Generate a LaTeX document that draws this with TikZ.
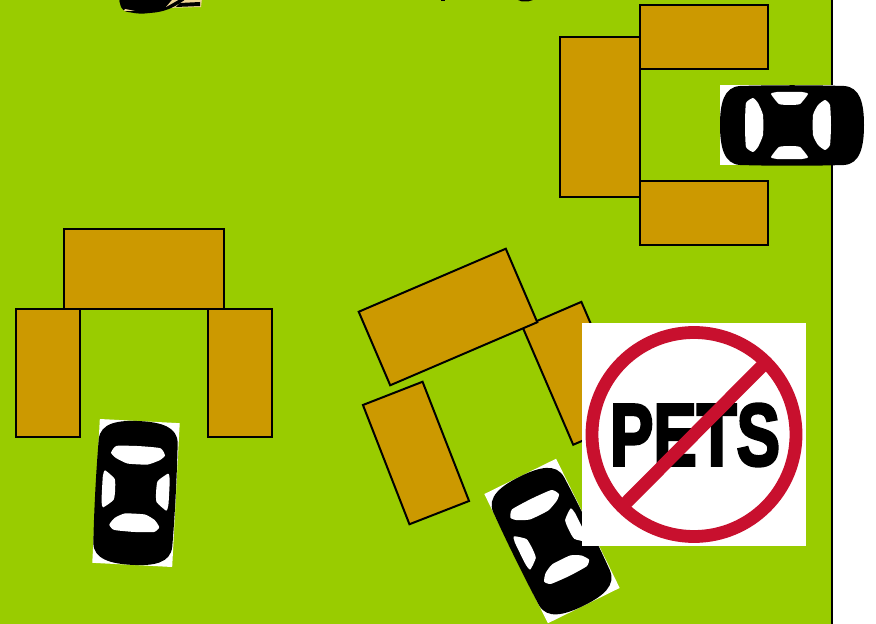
\documentclass[tikz,border=0pt]{standalone}
\usepackage{fontspec}
\usepackage{tikz}
\usetikzlibrary{positioning}
\newfontfamily\petsfont[FakeBold=3.5]{Liberation Sans Bold}
\definecolor{lawn}{RGB}{153,204,0}
\definecolor{tabletop}{RGB}{204,153,0}
\definecolor{signred}{RGB}{200,16,46}
\definecolor{dogtan}{RGB}{240,214,150}
\tikzset{
  tablebox/.style={
    draw=black, fill=tabletop, line width=1.5pt,
    minimum width=#1, inner sep=0pt, outer sep=0pt
  },
  longtable/.style={tablebox=160*0.75pt, minimum height=80*0.75pt},
  sidetable/.style={tablebox=64*0.75pt, minimum height=128*0.75pt},
  flattable/.style={tablebox=128*0.75pt, minimum height=64*0.75pt},
  car/.pic={
    \fill[white] (-72,-40) rectangle (72,40);
    \fill[black] (-52,-39) .. controls (-20,-40) and (20,-40) .. (52,-39)
      .. controls (68,-38) and (72,-22) .. (72,0)
      .. controls (72,22) and (68,39) .. (52,40)
      .. controls (20,41) and (-20,41) .. (-52,40)
      .. controls (-68,39) and (-72,22) .. (-72,0)
      .. controls (-72,-22) and (-68,-38) .. (-52,-39) -- cycle;
    \fill[white] plot[smooth cycle, tension=0.3] coordinates {(-46,-22) (-39,-27) (-34,-22) (-29,-10) (-29,10) (-34,22) (-39,27) (-46,22) (-47,0)};
    \fill[white] plot[smooth cycle, tension=0.3] coordinates {(21,-10) (26,-20) (33,-25) (38,-20) (39,0) (38,20) (33,25) (26,20) (21,10)};
    \fill[white] plot[smooth cycle, tension=0.3] coordinates {(-21,-31) (-15,-33) (10,-33) (16,-31) (8,-21) (-2,-20) (-13,-21)};
    \fill[white] plot[smooth cycle, tension=0.3] coordinates {(-21,32) (-15,34) (10,34) (16,32) (8,22) (-2,21) (-13,22)};
  }
}
\begin{document}
\begin{tikzpicture}[x=0.75pt, y=-0.75pt]
  \useasboundingbox (0,0) rectangle (876,624);
  \fill[lawn] (0,0) rectangle (832,624);
  \draw[line width=1.5pt] (832,0) -- (832,624);

  % cut off at the top edge
  \begin{scope}
    \clip (0,0) rectangle (876,624);
    \fill[dogtan] (170,-4) -- (202,-2) -- (201,7) -- (165,8) -- cycle;
    \fill[black, rounded corners=4pt] (118,-4) -- (172,-4) -- (188,-2) -- (172,8) -- (160,12) -- (140,14) -- (122,11) -- cycle;
    \fill[black] (180,3) -- (200,2) -- (200,6) -- (176,7) -- cycle;
    \fill[dogtan] (125,9) -- (135,11) -- (124,11) -- cycle;
    \fill[dogtan] (172,0) -- (180,-1) -- (166,7) -- cycle;
    \fill[black] (441,-2) rectangle (445,1.5);
    \fill[black] (518,0) -- (533,0) -- (528,1.5) -- (522,1.5) -- cycle;
  \end{scope}

  % top right group
  \node[sidetable, minimum width=80*0.75pt, minimum height=160*0.75pt] (backright) at (600,117) {};
  \node[flattable] (topright) at (704,37) {};
  \node[flattable] (bottomright) at (704,213) {};

  % left group
  \node[longtable] (backleft) at (144,269) {};
  \node[sidetable] (sideleft) at (48,373) {};
  \node[sidetable] (sideleftb) at (240,373) {};

  % tilted group
  \node[sidetable, rotate=23.3] (sidemid) at (577.3,373.3) {};
  \node[longtable, rotate=23.2] (backmid) at (448,317) {};
  \node[sidetable, rotate=21.3] (sidemidb) at (416,453) {};

  % cars
  \pic at (792,125) {car};
  \pic[rotate=-93] at (136,493) {car};
  \pic[rotate=-63.8] at (552,541) {car};

  % sign
  \fill[white] (582,323) rectangle (806,546);
  \node[font=\petsfont\fontsize{66}{66}\selectfont, xscale=0.74, inner sep=0pt] (petstext) at (695,435) {PETS};
  \draw[signred, line width=9.6pt] (694,434.5) circle (102);
  \draw[signred, line width=9.8pt] (626,503) -- (762,366);
\end{tikzpicture}
\end{document}
